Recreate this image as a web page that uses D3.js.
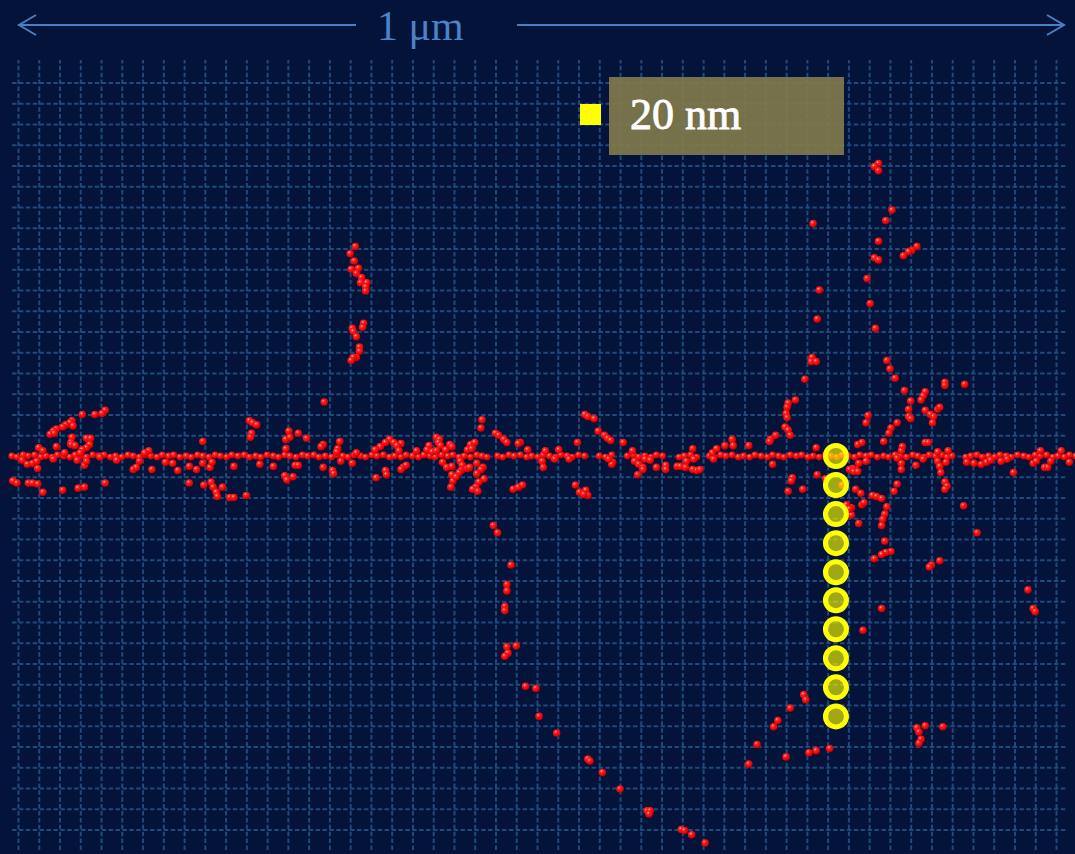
<!DOCTYPE html>
<html>
<head>
<meta charset="utf-8">
<script src="https://cdn.jsdelivr.net/npm/d3@7"></script>
<style>
  html, body { margin: 0; padding: 0; background: #03133a; }
  svg { display: block; }
</style>
</head>
<body>
<div id="chart-area"></div>
<script>
/*
*    scatter of positions (nm) along the track, with the 20 nm probe column
*/

// dense band of points on the track line (x nm, offset nm)
var bandDots = [[-6,0],[-1,1],[5,-1],[10,0],[16,-1],[22,1],[27,0],[33,1],[38,-1],[44,0],[50,1],[55,-1],
  [61,0],[66,1],[72,-1],[78,0],[83,-1],[89,1],[94,0],[100,1],[106,-1],[111,0],[117,1],[122,-1],
  [128,0],[134,1],[139,-1],[145,0],[150,-1],[156,1],[162,0],[167,1],[173,-1],[178,0],[184,1],[190,-1],
  [195,0],[201,1],[206,-1],[212,0],[218,-1],[223,1],[229,0],[234,1],[240,-1],[246,0],[251,1],[257,-1],
  [262,0],[268,1],[274,-1],[279,0],[285,-1],[290,1],[296,0],[302,1],[307,-1],[313,0],[318,1],[324,-1],
  [330,0],[335,1],[341,-1],[346,0],[352,-1],[358,1],[363,0],[369,1],[374,-1],[380,0],[386,1],[391,-1],
  [397,0],[402,1],[408,-1],[414,0],[419,-1],[425,1],[430,0],[436,1],[442,-1],[447,0],[452,1],
  [462,0],[467,1],[473,-1],[478,0],[484,-1],[490,1],[495,0],[501,1],[506,-1],[512,0],[518,1],[523,-1],
  [529,0],[534,1],[540,-1],[546,0],
  [560,0],[566,1],[572,-1],
  [587,0],[593,-1],[598,1],[604,0],[610,1],[615,-1],[621,0],
  [637,1],[642,0],[648,-1],[654,1],
  [666,0],[671,1],[677,-1],[682,0],[688,-1],[694,1],[699,0],[705,1],[710,-1],[716,0],[722,1],[727,-1],
  [733,0],[738,1],[744,-1],[750,0],[755,-1],[761,1],[766,0],[772,1],[778,-1],[783,0],[789,1],[794,-1],
  [800,0],[806,1],[811,-1],[817,0],[822,-1],[828,1],[834,0],[839,1],[845,-1],[850,0],[856,1],[862,-1],
  [867,0],[873,1],[878,-1],[884,0],[890,-1],[895,1],[900,0],
  [913,1],[918,0],[924,-1],[929,1],[935,0],[941,1],[946,-1],[952,0],[957,1],[963,-1],
  [969,0],[974,1],[980,-1],[985,0],[991,-1],[997,1],[1002,0],[1008,1],[1013,-1],[1019,0]];

// scattered points off the band, left part (x nm, depth nm)
var leftDots = [[295,-52],[84,-44],[81,-41],[74,-40],[62,-40],[52,-34],[50,-32],[53,-29],[46,-30],[43,-28],
  [37,-26],[34,-24],[31,-21],[35,-22],[52,-18],[51,-13],[51,-11],[55,-10],[37,-9],[20,-8],[66,-17],[70,-17],
  [69,-11],[66,-8],[62,-6],[60,-3],[24,-5],[45,-3],[4,4],[9,8],[14,7],[18,5],[19,12],[34,3],[57,4],[64,9],
  [66,5],[79,1],[95,4],[-5,24],[-1,26],[10,26],[14,26],[19,27],[24,35],[43,33],[58,31],[64,30],[84,26],
  [117,5],[111,13],[114,11],[129,13],[154,14],[142,6],[149,7],[165,10],[172,13],[178,7],[185,11],[187,6],
  [208,10],[165,26],[179,28],[186,25],[188,30],[191,35],[192,39],[197,30],[204,40],[208,40],[220,38],
  [126,-5],[122,-3],[178,-14],[223,-34],[226,-32],[230,-30],[225,-22],[224,-18],[233,8],[246,10],[261,-24],
  [258,-16],[262,-18],[270,-22],[278,-17],[258,-7],[267,9],[270,9],[294,11],[257,19],[259,23],[265,20],
  [294,-11],[292,-9],[310,-14],[308,-7],[307,-4],[311,5],[303,14],[304,17],[322,7],[326,-3]];

// the short vertical strand near 330 nm
var strandDots = [[325,-202],[320,-195],[324,-188],[321,-180],[328,-181],[326,-176],[331,-172],[330,-167],
  [336,-167],[335,-163],[335,-159],[333,-128],[332,-124],[322,-123],[323,-120],[326,-115],[329,-105],
  [329,-101],[326,-95],[323,-95],[321,-92]];

// middle part around the band
var midDots = [[447,-35],[446,-27],[460,-22],[463,-20],[468,-16],[471,-13],[484,-13],[482,-12],[546,-40],
  [549,-38],[555,-36],[559,-24],[565,-20],[568,-17],[571,-15],[539,-13],[583,-13],[358,-16],[354,-13],
  [362,-13],[369,-12],[365,-10],[349,-9],[344,-6],[367,-5],[403,-18],[406,-16],[405,-13],[407,-10],[396,-10],
  [394,-6],[412,-6],[416,-11],[418,-9],[384,-5],[399,-4],[403,-5],[436,-11],[440,-13],[433,-6],[437,-7],
  [354,14],[355,18],[345,21],[371,11],[369,13],[374,9],[409,6],[413,11],[418,10],[426,5],[428,9],[427,14],
  [425,16],[418,18],[419,24],[417,30],[422,20],[433,12],[435,11],[442,7],[448,11],[446,13],[442,17],[449,22],
  [444,25],[441,30],[438,32],[443,34],[477,32],[482,30],[486,28],[491,-6],[508,-5],[505,5],[506,11],[521,-6],
  [517,3],[531,3],[537,28],[541,35],[547,33],[549,38],[545,37],[573,6],[572,8],[569,3],[592,-5],[594,5],
  [598,8],[602,11],[602,13],[597,18],[604,3],[609,4],[615,11],[624,9],[624,13],[635,10],[638,10],[644,5],
  [643,11],[650,-7],[651,3],[650,13],[654,14],[657,13],[669,-3],[673,-7],[670,3]];

// right part, above the band
var upperRightDots = [[829,-282],[825,-279],[829,-275],[842,-237],[836,-227],[766,-224],[829,-207],[866,-202],
  [861,-198],[858,-197],[853,-193],[825,-191],[829,-189],[818,-171],[772,-160],[821,-147],[770,-132],
  [826,-123],[765,-95],[764,-91],[769,-91],[837,-92],[840,-84],[845,-75],[758,-74],[854,-63],[893,-71],
  [893,-68],[912,-69],[874,-62],[872,-58],[870,-54],[860,-53],[749,-54],[742,-51],[741,-47],[740,-41],
  [741,-37],[739,-28],[742,-25],[744,-20],[858,-45],[874,-44],[886,-45],[888,-47],[879,-40],[882,-38],
  [858,-38],[860,-36],[881,-32],[819,-39],[817,-32],[847,-32],[841,-27],[839,-22],[834,-14],[852,-9],
  [874,-13],[877,-13],[809,-11],[813,-13],[730,-20],[725,-16],[724,-14],[688,-16],[689,-10],[704,-10],
  [681,-10],[769,-8]];

// right part, on and below the band
var lowerRightDots = [[851,-5],[886,-4],[896,-5],[985,-5],[1005,-5],[810,7],[817,5],[851,7],[851,13],[865,9],
  [847,2],[886,5],[888,10],[889,16],[893,25],[895,29],[893,32],[872,3],[894,6],[914,6],[921,7],[928,8],
  [933,6],[937,4],[947,5],[953,3],[959,16],[978,7],[981,5],[989,11],[992,11],[995,5],[1013,6],[807,13],
  [804,12],[847,27],[844,34],[807,32],[812,36],[823,38],[827,39],[832,41],[813,47],[815,45],[837,49],
  [835,56],[833,61],[832,67],[810,65],[803,50],[803,57],[911,48],[924,74],[835,82],[841,92],[836,93],
  [832,95],[825,99],[888,101],[880,105],[878,107],[973,129],[832,147],[978,147],[980,150],
  [727,8],[746,21],[745,24],[756,32],[742,34],[770,18],[778,22],[794,28],[801,13],[805,15],[809,15],
  [798,47],[801,51]];

// the long strands going down
var deepDots = [[458,67],[462,74],[475,105],[471,124],[471,130],[469,145],[469,149],[471,184],[472,190],
  [469,193],[480,183],[489,222],[499,224],[502,251],[519,267],[549,292],[551,294],[563,305],[580,321],
  [606,342],[609,342],[608,345],[639,360],[642,361],[649,365],[662,373],[704,297],
  [814,168],[757,230],[759,235],[744,243],[732,255],[728,261],[712,278],[740,290],[762,286],[769,284],
  [782,282],[866,262],[874,260],[868,266],[870,273],[868,277],[891,261]];

// 20 nm probe column
var probeX = 788;
var probeDepths = [0, 28, 56, 84, 112, 139, 167, 195, 223, 251];

var scaleLabel = "1 μm";
var legendLabel = "20 nm";

var W = 1075, H = 854;

var svg = d3.select("#chart-area").append("svg")
    .attr("width", W)
    .attr("height", H);

svg.append("rect").attr("width", W).attr("height", H).attr("fill", "#03133a");

var x = d3.scaleLinear()
    .domain([0, 1000])
    .range([18, 1056]);

var y = d3.scaleLinear()
    .domain([-360, 360])
    .range([82.5, 829.5]);

// gradient for the little spheres
var defs = svg.append("defs");
var grad = defs.append("radialGradient")
    .attr("id", "ball")
    .attr("cx", 0.38).attr("cy", 0.34).attr("r", 0.66);
grad.append("stop").attr("offset", "0%").attr("stop-color", "#ffb4b4");
grad.append("stop").attr("offset", "28%").attr("stop-color", "#ff2222");
grad.append("stop").attr("offset", "80%").attr("stop-color", "#e80000");
grad.append("stop").attr("offset", "100%").attr("stop-color", "#b40000");

// grid made from axes
var xGrid = svg.append("g")
    .attr("transform", "translate(0,850)")
    .call(d3.axisBottom(x).tickValues(d3.range(0, 1001, 20)).tickSize(-790).tickFormat(""));
var yGrid = svg.append("g")
    .attr("transform", "translate(12,0)")
    .call(d3.axisLeft(y).tickValues(d3.range(-360, 361, 20)).tickSize(-1054).tickFormat(""));

[xGrid, yGrid].forEach((g) => {
  g.select(".domain").remove();
  g.selectAll(".tick line")
    .attr("stroke", "#1f4a7c")
    .attr("stroke-width", 2)
    .attr("stroke-dasharray", "4.5,2.4");
});

// band
svg.append("g").selectAll("circle")
    .data(bandDots)
    .enter()
    .append("circle")
      .attr("cx", (d) => { return x(d[0]); })
      .attr("cy", (d) => { return y(d[1]); })
      .attr("r", 3.4)
      .attr("fill", "url(#ball)");

// off-band points
var allDots = leftDots.concat(strandDots, midDots, upperRightDots, lowerRightDots, deepDots);
svg.append("g").selectAll("circle")
    .data(allDots)
    .enter()
    .append("circle")
      .attr("cx", (d) => { return x(d[0]); })
      .attr("cy", (d) => { return y(d[1]); })
      .attr("r", 3.8)
      .attr("fill", "url(#ball)");

// probe column
svg.append("g").selectAll("circle")
    .data(probeDepths)
    .enter()
    .append("circle")
      .attr("cx", x(probeX))
      .attr("cy", (d) => { return y(d); })
      .attr("r", 10.5)
      .attr("fill", "#ffff00")
      .attr("fill-opacity", 0.63)
      .attr("stroke", "#ffff00")
      .attr("stroke-width", 5);

// legend
svg.append("rect")
    .attr("x", 580).attr("y", 104)
    .attr("width", 21).attr("height", 21)
    .attr("fill", "#ffff00");
svg.append("rect")
    .attr("x", 609).attr("y", 77)
    .attr("width", 235).attr("height", 78)
    .attr("fill", "#807a4c")
    .attr("fill-opacity", 0.92);
svg.append("text")
    .attr("x", 630).attr("y", 129)
    .attr("font-family", "'Liberation Serif', 'DejaVu Serif', serif")
    .attr("font-size", 44)
    .attr("fill", "#ffffff")
    .attr("stroke", "#ffffff")
    .attr("stroke-width", 0.9)
    .text(legendLabel);

// scale bar
var bar = svg.append("g")
    .attr("stroke", "#4a7fc2")
    .attr("stroke-width", 2)
    .attr("fill", "none");
bar.append("line").attr("x1", 18).attr("x2", 356).attr("y1", 25).attr("y2", 25);
bar.append("line").attr("x1", 517).attr("x2", 1064).attr("y1", 25).attr("y2", 25);
bar.append("path").attr("d", "M36,15 L19,25 L36,35");
bar.append("path").attr("d", "M1047,15 L1064,25 L1047,35");

svg.append("text")
    .attr("x", 377).attr("y", 40)
    .attr("font-family", "'Liberation Serif', 'DejaVu Serif', serif")
    .attr("font-size", 42)
    .attr("fill", "#4c82c6")
    .text(scaleLabel);
</script>
</body>
</html>
